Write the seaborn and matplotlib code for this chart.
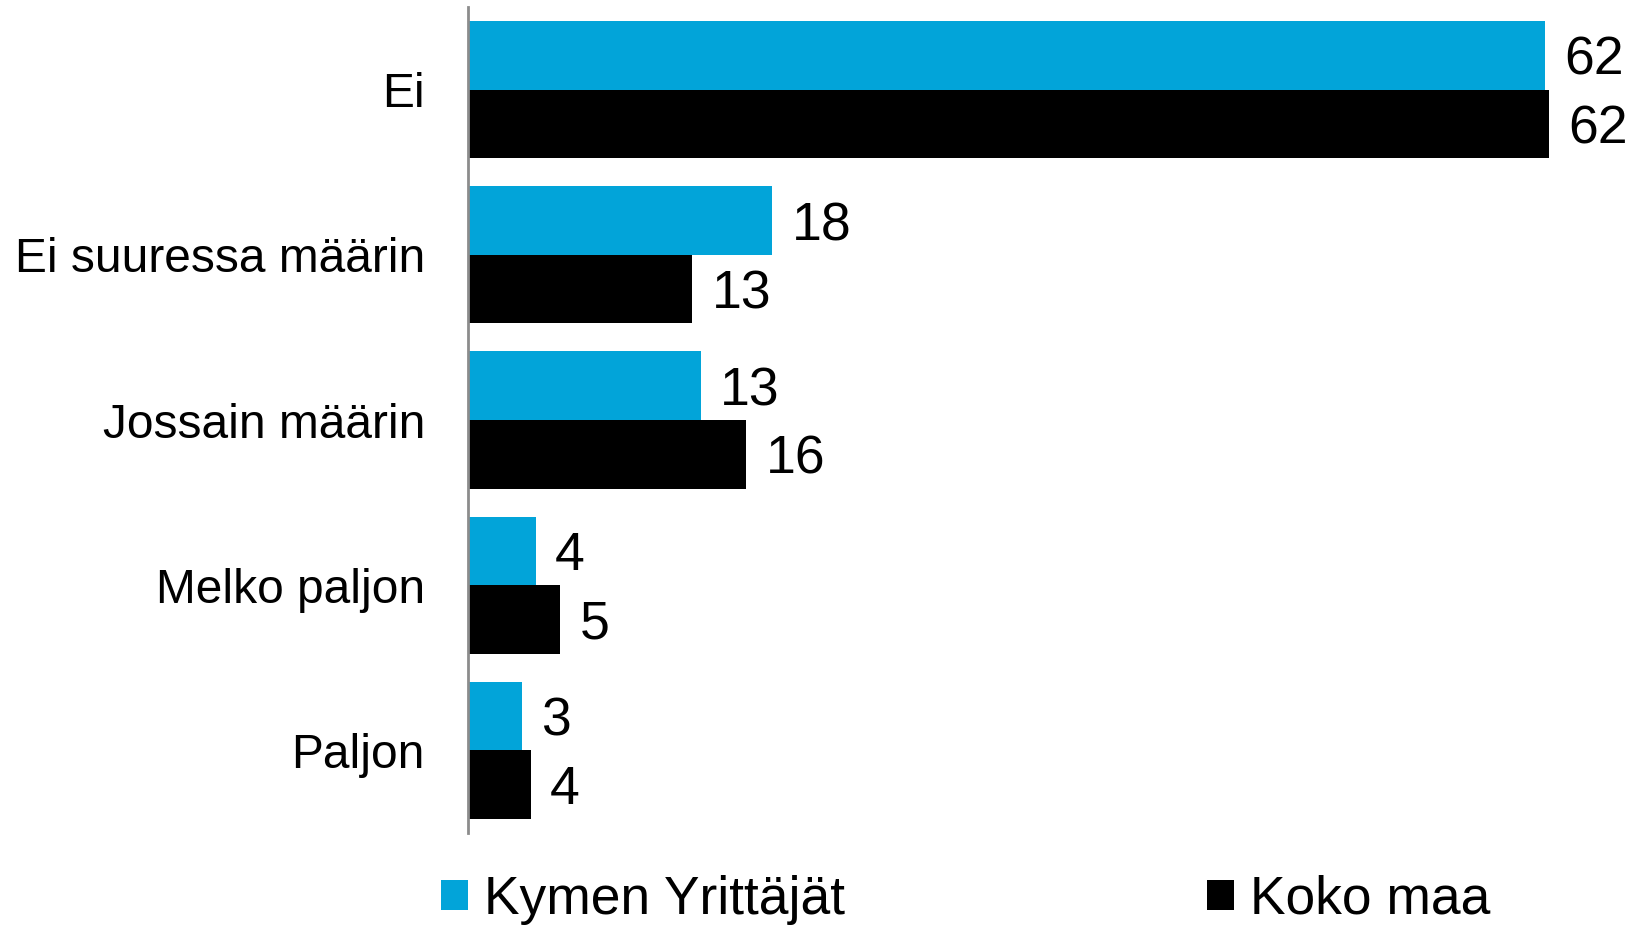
import numpy as np
import pandas as pd
import matplotlib
matplotlib.use("Agg")
import matplotlib.pyplot as plt
import seaborn as sns

# data
categories = ["Ei", "Ei suuressa määrin", "Jossain määrin", "Melko paljon", "Paljon"]
series_names = ["Kymen Yrittäjät", "Koko maa"]
kymen_values = [62.0, 17.5, 13.4, 3.9, 3.1]
koko_values = [62.2, 12.9, 16.0, 5.3, 3.6]
kymen_labels = ["62", "18", "13", "4", "3"]
koko_labels = ["62", "13", "16", "5", "4"]

colors = ["#02A4D9", "#000000"]

df = pd.DataFrame({
    "category": categories * 2,
    "series": [series_names[0]] * len(categories) + [series_names[1]] * len(categories),
    "value": kymen_values + koko_values,
})

sns.set_theme(style="white")
plt.rcParams["font.family"] = ["Liberation Sans", "DejaVu Sans"]
plt.rcParams["text.color"] = "black"

fig = plt.figure(figsize=(16.32, 9.26), dpi=100)
ax = fig.add_axes([468 / 1632, 1 - 833 / 926, 1 - 468 / 1632, 826 / 926])

sns.barplot(
    data=df, y="category", x="value", hue="series",
    order=categories, hue_order=series_names,
    palette=colors, orient="h", width=0.83, errorbar=None,
    saturation=1, linewidth=0, ax=ax,
)

for container, labels in zip(ax.containers, [kymen_labels, koko_labels]):
    texts = ax.bar_label(container, labels=labels, padding=14, fontsize=38.5, color="black")
    for t in texts:
        t.set_verticalalignment("center_baseline")

ax.set_xlim(0, 67.0)
ax.set_ylim(4.5, -0.5)
ax.set_xlabel("")
ax.set_ylabel("")
ax.set_xticks([])
ax.tick_params(axis="y", length=0, pad=31, labelsize=34.5, labelcolor="black")
for side in ["top", "right", "bottom"]:
    ax.spines[side].set_visible(False)
ax.spines["left"].set_color("#8c8c8c")
ax.spines["left"].set_linewidth(2)

handles, labels = ax.get_legend_handles_labels()
ax.get_legend().remove()
fig.legend(
    handles, labels, loc="center left", bbox_to_anchor=(441 / 1632, 1 - 900 / 926),
    ncol=2, frameon=False, fontsize=38.4, handlelength=0.5, handleheight=0.5,
    handletextpad=0.3, columnspacing=6.8, borderpad=0, borderaxespad=0,
    labelcolor="black",
)

fig.savefig("out.png", dpi=100)
